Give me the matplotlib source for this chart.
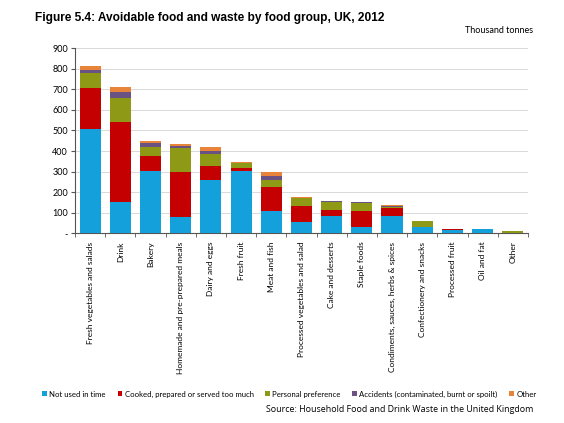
import matplotlib
matplotlib.use("Agg")
import matplotlib.pyplot as plt
import numpy as np
from matplotlib.patches import Patch

categories = ["Fresh vegetables and salads", "Drink", "Bakery",
              "Homemade and pre-prepared meals", "Dairy and eggs", "Fresh fruit",
              "Meat and fish", "Processed vegetables and salad", "Cake and desserts",
              "Staple foods", "Condiments, sauces, herbs & spices",
              "Confectionery and snacks", "Processed fruit", "Oil and fat", "Other"]

not_used = [506, 152, 303, 81, 259, 303, 108, 57, 86, 29, 86, 30, 17, 20, 2]
cooked = [199, 391, 73, 219, 70, 15, 117, 77, 27, 81, 35, 2, 4, 0, 0]
preference = [76, 113, 42, 117, 57, 23, 34, 36, 37, 36, 5, 26, 1, 0, 8]
accidents = [13, 33, 20, 8, 14, 3, 21, 3, 6, 4, 6, 1, 0, 1, 0]
other = [20, 21, 12, 11, 21, 3, 19, 5, 2, 2, 5, 2, 1, 0, 1]

series_names = ["Not used in time", "Cooked, prepared or served too much",
                "Personal preference", "Accidents (contaminated, burnt or spoilt)", "Other"]
colors = ["#14A0DA", "#C40000", "#8E9A16", "#6A5282", "#E8843A"]

yticks = [0, 100, 200, 300, 400, 500, 600, 700, 800, 900]
ytick_labels = ["-", "100", "200", "300", "400", "500", "600", "700", "800", "900"]

plt.rcParams['font.family'] = ['Lato', 'DejaVu Sans']

fig = plt.figure(figsize=(5.64, 4.23), dpi=100)
ax = fig.add_axes([0.133, 0.4485, 0.803, 0.4375])

x = np.arange(len(categories))
bottom = np.zeros(len(categories))
for vals, col in zip([not_used, cooked, preference, accidents, other], colors):
    ax.bar(x, vals, bottom=bottom, width=0.7, color=col, zorder=3)
    bottom += np.array(vals)

ax.set_xlim(-0.5, len(categories) - 0.5)
ax.set_ylim(0, 900)
ax.set_yticks(yticks)
ax.set_yticklabels(ytick_labels, fontsize=6.5)
ax.yaxis.grid(True, color="#d9d9d9", linewidth=0.7, zorder=0)
ax.set_axisbelow(True)

ax.set_xticks(x)
ax.set_xticklabels(categories, rotation=90, fontsize=6.0, va="top")
ax.tick_params(axis="x", length=0, pad=6)
ax.set_xticks(np.arange(-0.5, len(categories), 1), minor=True)
ax.tick_params(axis="x", which="minor", length=3, color="#555555")
ax.tick_params(axis="y", length=3, color="#555555", pad=2)

for s in ["top", "right"]:
    ax.spines[s].set_visible(False)
ax.spines["left"].set_color("#555555")
ax.spines["bottom"].set_color("#555555")
ax.spines["left"].set_linewidth(0.8)
ax.spines["bottom"].set_linewidth(0.8)

fig.text(0.062, 0.957, "Figure 5.4: Avoidable food and waste by food group, UK, 2012",
         fontsize=8.6, fontweight="bold", family=["Liberation Sans", "DejaVu Sans"],
         ha="left", va="center")
fig.text(0.945, 0.928, "Thousand tonnes", fontsize=6.5, ha="right", va="center")

handles = [Patch(facecolor=c, edgecolor="none") for c in colors]
fig.legend(handles, series_names, loc="center", bbox_to_anchor=(0.513, 0.068), ncol=5,
           frameon=False, fontsize=5.6, handlelength=0.6, handleheight=0.6,
           handletextpad=0.3, columnspacing=1.5, borderaxespad=0)

fig.text(0.945, 0.033, "Source: Household Food and Drink Waste in the United Kingdom",
         fontsize=6.4, ha="right", va="center", family=["Open Sans", "DejaVu Sans"])

fig.savefig("out.png", dpi=100)
